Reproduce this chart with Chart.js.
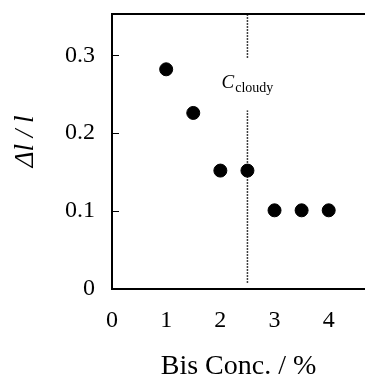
<!DOCTYPE html>
<html>
<head>
<meta charset="utf-8">
<script src="https://cdn.jsdelivr.net/npm/chart.js@4"></script>
<style>
  html, body { margin: 0; padding: 0; background: #fff; }
  #wrap { width: 365px; height: 384px; }
</style>
</head>
<body>
<div id="wrap"><canvas id="chart"></canvas></div>
<script>
  // values
  const bisConc = [1, 1.5, 2, 2.5, 3, 3.5, 4];
  const deltaL = [0.282, 0.226, 0.152, 0.152, 0.101, 0.101, 0.101];
  const xTicks = [0, 1, 2, 3, 4];
  const yTicks = [0, 0.1, 0.2, 0.3];
  const cloudyConc = 2.5;

  const serif = "'Liberation Serif', 'DejaVu Serif', serif";

  // dotted marker line, broken where the label sits
  const cloudyLine = [
    { x: cloudyConc, y: 0.008 },
    { x: cloudyConc, y: 0.229 },
    { x: cloudyConc, y: null },
    { x: cloudyConc, y: 0.297 },
    { x: cloudyConc, y: 0.353 }
  ];

  const points = bisConc.map((c, i) => ({ x: c, y: deltaL[i] }));

  // top frame line, inward y ticks and the C_cloudy label
  const extras = {
    id: 'extras',
    afterDraw(chart) {
      const { ctx, chartArea, scales } = chart;
      ctx.save();
      ctx.strokeStyle = '#000';
      ctx.lineWidth = 2;
      ctx.beginPath();
      ctx.moveTo(chartArea.left, chartArea.top);
      ctx.lineTo(chartArea.right, chartArea.top);
      ctx.stroke();

      ctx.lineWidth = 1;
      yTicks.forEach(v => {
        if (v === 0) return;
        const py = Math.round(scales.y.getPixelForValue(v)) + 0.5;
        ctx.beginPath();
        ctx.moveTo(chartArea.left, py);
        ctx.lineTo(chartArea.left + 7, py);
        ctx.stroke();
      });

      const lx = scales.x.getPixelForValue(cloudyConc);
      const ly = scales.y.getPixelForValue(0.258);
      ctx.fillStyle = '#000';
      ctx.textBaseline = 'alphabetic';
      ctx.textAlign = 'left';
      ctx.font = 'italic 19px ' + serif;
      const wC = ctx.measureText('C').width;
      ctx.font = '14px ' + serif;
      const wSub = ctx.measureText('cloudy').width;
      const x0 = lx - (wC + 1 + wSub) / 2;
      ctx.font = 'italic 19px ' + serif;
      ctx.fillText('C', x0, ly);
      ctx.font = '14px ' + serif;
      ctx.fillText('cloudy', x0 + wC + 1, ly + 4);
      ctx.restore();
    }
  };

  new Chart(document.getElementById('chart'), {
    type: 'scatter',
    data: {
      datasets: [
        {
          label: 'Δl / l',
          data: points,
          backgroundColor: '#000',
          borderColor: '#000',
          pointRadius: 6.5,
          pointHoverRadius: 6.5
        },
        {
          type: 'line',
          label: 'C cloudy',
          data: cloudyLine,
          borderColor: '#000',
          borderWidth: 1.5,
          borderDash: [1.5, 1.5],
          pointRadius: 0,
          spanGaps: false,
          fill: false
        }
      ]
    },
    options: {
      responsive: true,
      maintainAspectRatio: false,
      animation: false,
      layout: { autoPadding: false, padding: { top: 14, right: 0, left: 0, bottom: 0 } },
      plugins: {
        legend: { display: false },
        tooltip: { enabled: false }
      },
      scales: {
        x: {
          type: 'linear',
          min: 0,
          max: 4.67,
          afterFit: s => { s.height = 95; s.paddingLeft = 0; s.paddingRight = 0; },
          afterBuildTicks: s => { s.ticks = xTicks.map(v => ({ value: v })); },
          grid: { display: false, drawTicks: false },
          border: { display: true, color: '#000', width: 2 },
          ticks: {
            color: '#000',
            padding: 17,
            maxRotation: 0,
            font: { family: serif, size: 24 },
            callback: v => String(v)
          },
          title: {
            display: true,
            text: 'Bis Conc. / %',
            color: '#000',
            font: { family: serif, size: 28, lineHeight: 1 },
            padding: { top: 0, bottom: 3 }
          }
        },
        y: {
          min: 0,
          max: 0.353,
          afterFit: s => { s.width = 112; s.paddingTop = 0; s.paddingBottom = 0; },
          afterBuildTicks: s => { s.ticks = yTicks.map(v => ({ value: v })); },
          grid: { display: false, drawTicks: false },
          border: { display: true, color: '#000', width: 2 },
          ticks: {
            color: '#000',
            padding: 17,
            font: { family: serif, size: 24 },
            callback: v => (v === 0 ? '0' : v.toFixed(1))
          },
          title: {
            display: true,
            text: '   Δl / l',
            color: '#000',
            font: { family: serif, size: 27, style: 'italic', lineHeight: 1 },
            padding: { top: 12, bottom: 0 }
          }
        }
      }
    },
    plugins: [extras]
  });
</script>
</body>
</html>
